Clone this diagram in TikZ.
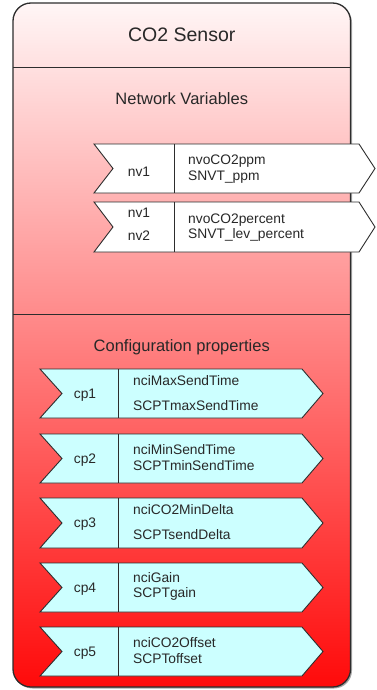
\documentclass[tikz,border=0pt]{standalone}
\usepackage{fontspec}
\setmainfont{Liberation Sans}
\definecolor{sensTop}{RGB}{255,246,246}
\definecolor{sensBot}{RGB}{255,10,10}
\definecolor{cpFill}{RGB}{204,255,255}
\definecolor{lineCol}{RGB}{45,45,45}
\definecolor{txtCol}{RGB}{40,40,40}
\tikzset{
  boxline/.style={draw=lineCol, line width=1.3pt},
  divline/.style={draw=lineCol, line width=0.9pt},
  portline/.style={draw=lineCol, line width=0.9pt, line join=miter},
  titletxt/.style={font=\fontsize{19.5}{22}\selectfont, text=txtCol, inner sep=0pt, anchor=base},
  sectxt/.style={font=\fontsize{16.5}{19}\selectfont, text=txtCol, inner sep=0pt, anchor=base},
  smalltxt/.style={font=\fontsize{13.8}{16}\selectfont, text=txtCol, inner sep=0pt, anchor=base west},
  idtxt/.style={font=\fontsize{13.8}{16}\selectfont, text=txtCol, inner sep=0pt, anchor=base}
}
% top, bottom, left, notch, divider, flat right, point, fill
\newcommand\pshape[8]{%
  \filldraw[portline, fill=#8] (#3,#1) -- (#6,#1) -- (#7,{(#1+#2)/2}) -- (#6,#2) -- (#3,#2) -- (#4,{(#1+#2)/2}) -- cycle;
  \draw[portline] (#5,#1) -- (#5,#2);}
\begin{document}
\begin{tikzpicture}[x=1pt,y=-1pt]
\useasboundingbox (0,0) rectangle (376,690);
% shadow
\fill[black!35, rounded corners=18pt] (14.5,4.5) rectangle (352,688.5);
% body
\shade[top color=sensTop, bottom color=sensBot, rounded corners=18pt] (13,3) rectangle (350.5,687);
\draw[boxline, rounded corners=18pt] (13,3) rectangle (350.5,687);
\draw[divline] (13,67) -- (350.5,67);
\draw[divline] (13,314) -- (350.5,314);

\node[titletxt] (title) at (181.75,41.5) {CO2 Sensor};
\node[sectxt] (nvsec) at (181.75,105) {Network Variables};
\node[sectxt] (cpsec) at (181.75,351) {Configuration properties};

% network variables
\pshape{144}{193}{94}{113}{174}{359}{375}{white}
\pshape{202}{252}{94}{113}{174}{359}{375}{white}
\node[idtxt] (nvAid) at (139,176.5) {nv1};
\node[smalltxt] (nvAa) at (188,164.3) {nvoCO2ppm};
\node[smalltxt] (nvAb) at (188,180) {SNVT\_ppm};
\node[idtxt] (nvBid1) at (139,217) {nv1};
\node[idtxt] (nvBid2) at (139,240.5) {nv2};
\node[smalltxt] (nvBa) at (188,223) {nvoCO2percent};
\node[smalltxt] (nvBb) at (188,238) {SNVT\_lev\_percent};

% configuration properties
\pshape{369}{418}{40}{62}{118}{302}{323}{cpFill}
\pshape{434}{483}{40}{62}{118}{302}{323}{cpFill}
\pshape{498}{548}{40}{62}{118}{302}{323}{cpFill}
\pshape{563}{612}{40}{62}{118}{302}{323}{cpFill}
\pshape{627}{676}{40}{62}{118}{302}{323}{cpFill}

\node[idtxt] (cpAid) at (85,398) {cp1};
\node[smalltxt] (cpAa) at (133,385) {nciMaxSendTime};
\node[smalltxt] (cpAb) at (133,410) {SCPTmaxSendTime};

\node[idtxt] (cpBid) at (85,463) {cp2};
\node[smalltxt] (cpBa) at (133,454) {nciMinSendTime};
\node[smalltxt] (cpBb) at (133,470) {SCPTminSendTime};

\node[idtxt] (cpCid) at (85,527.5) {cp3};
\node[smalltxt] (cpCa) at (133,514) {nciCO2MinDelta};
\node[smalltxt] (cpCb) at (133,539) {SCPTsendDelta};

\node[idtxt] (cpDid) at (85,592) {cp4};
\node[smalltxt] (cpDa) at (133,582) {nciGain};
\node[smalltxt] (cpDb) at (133,597.5) {SCPTgain};

\node[idtxt] (cpEid) at (85,656) {cp5};
\node[smalltxt] (cpEa) at (133,647) {nciCO2Offset};
\node[smalltxt] (cpEb) at (133,663) {SCPToffset};
\end{tikzpicture}
\end{document}
